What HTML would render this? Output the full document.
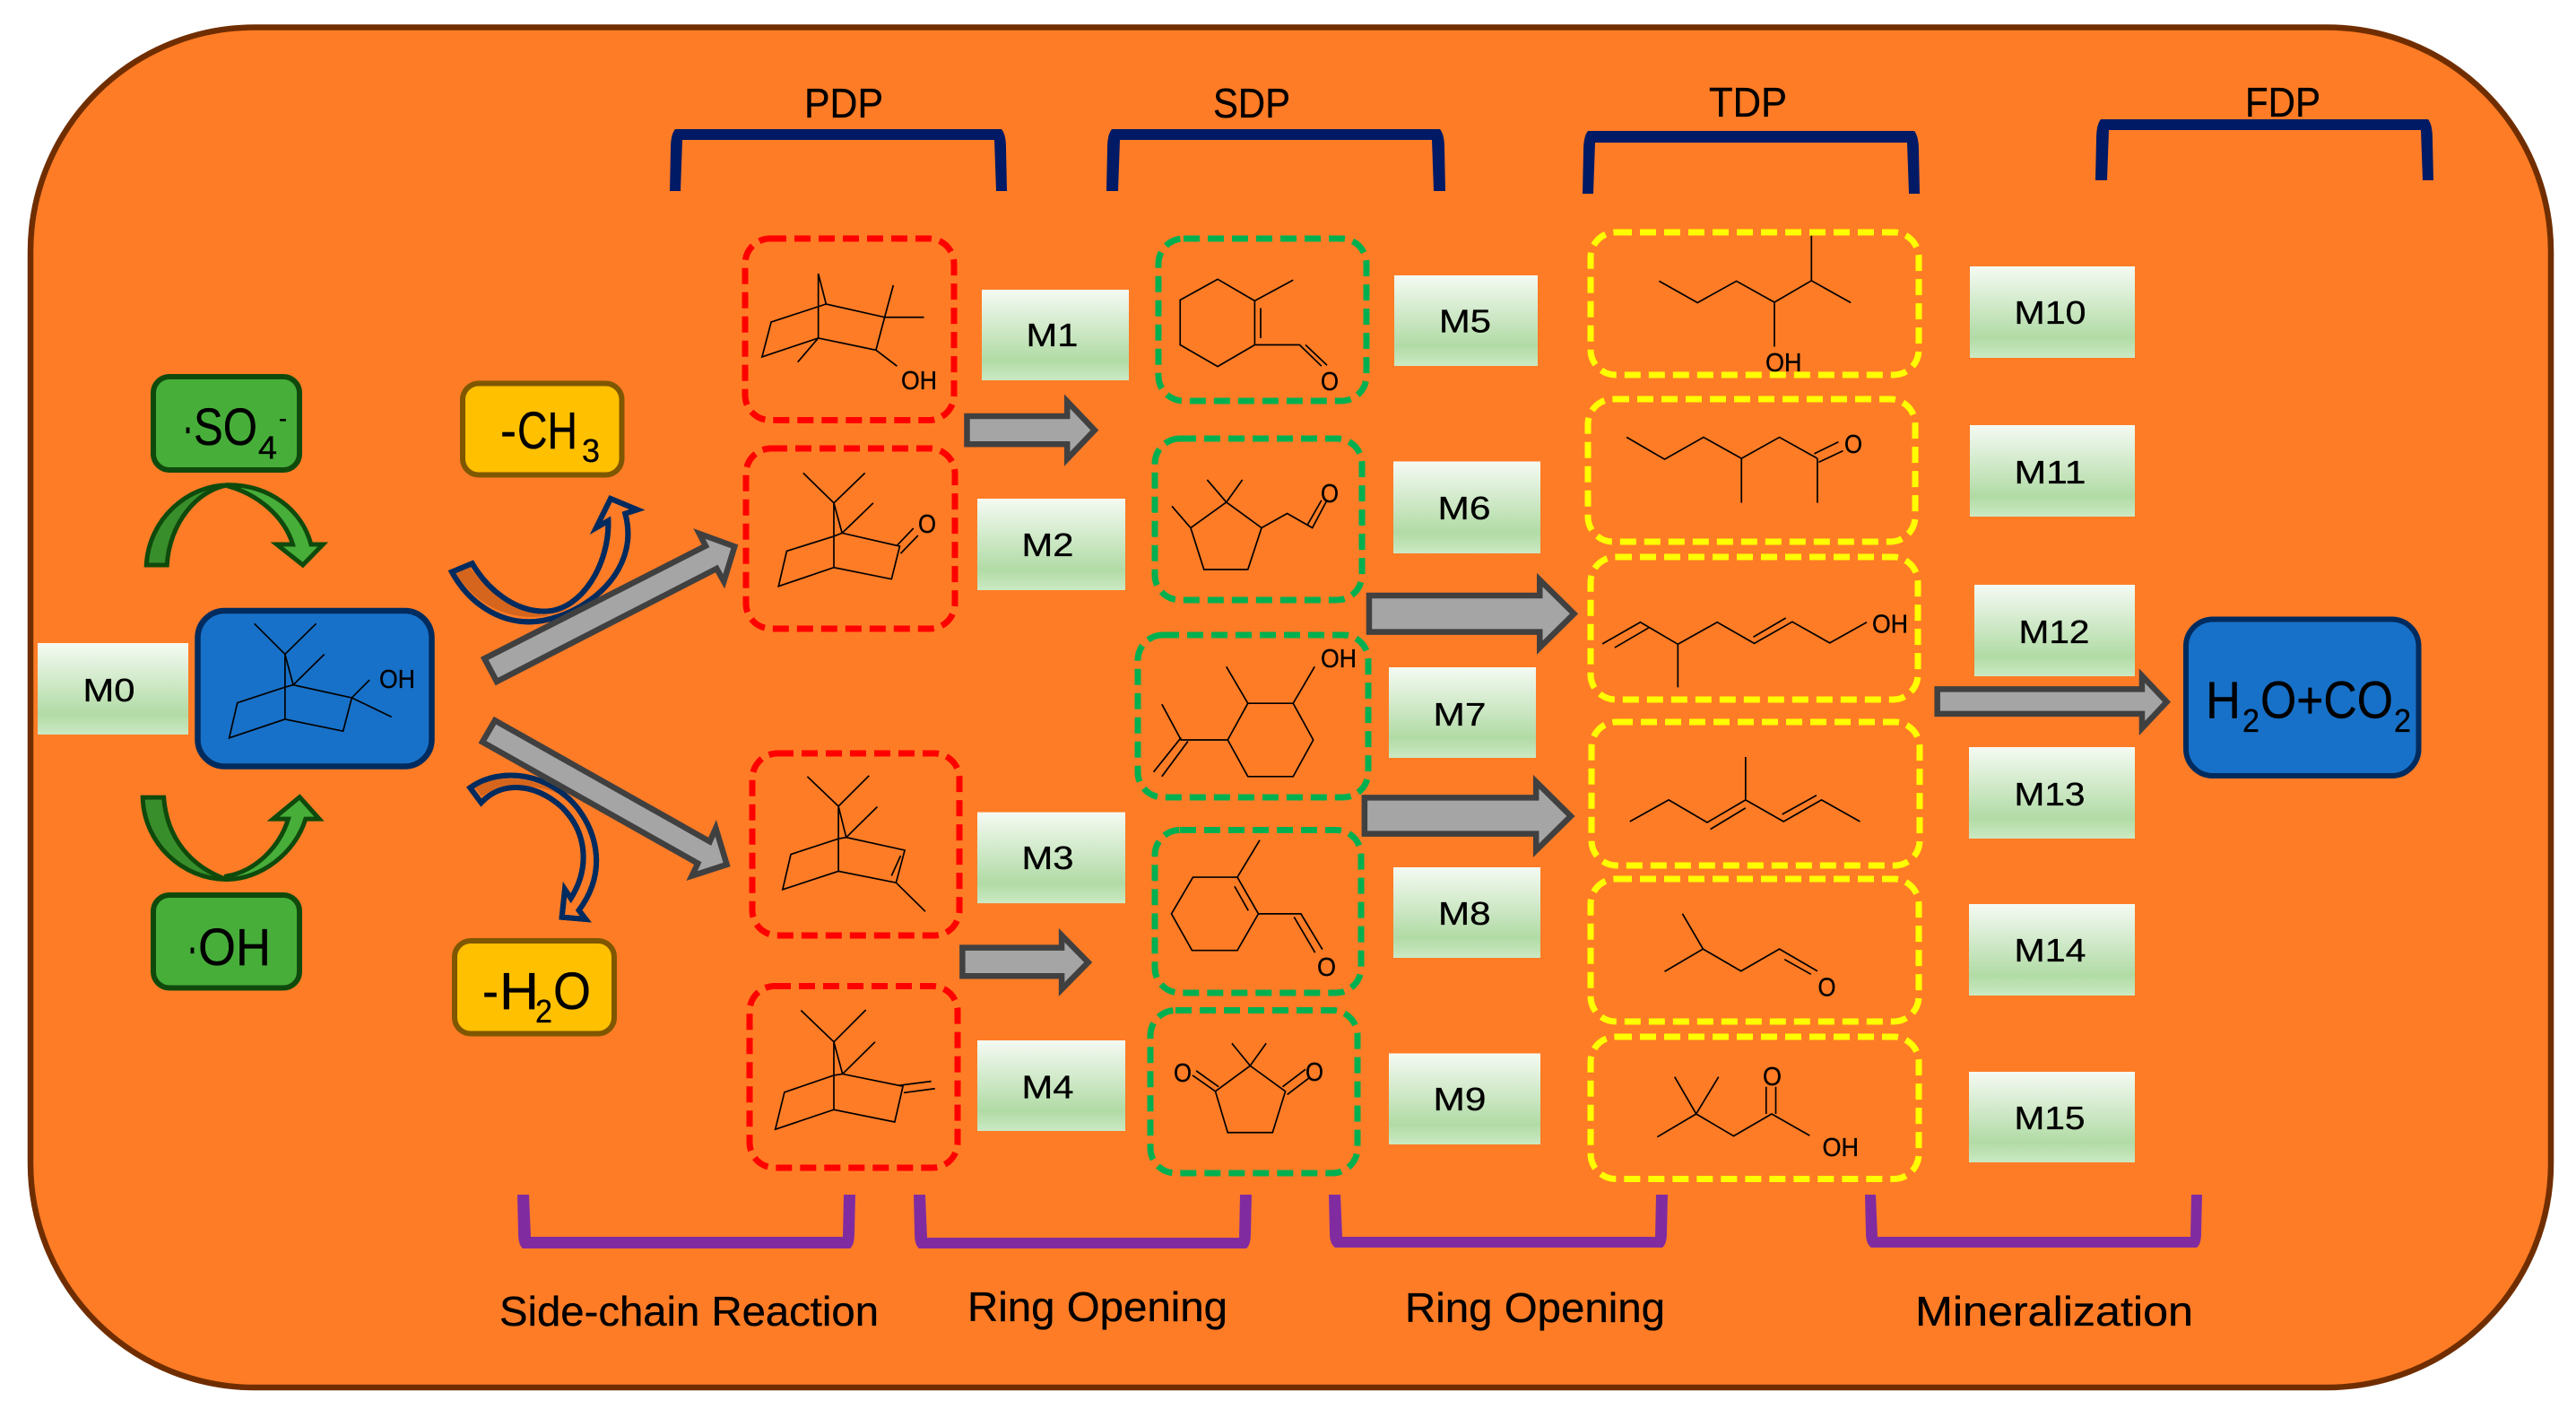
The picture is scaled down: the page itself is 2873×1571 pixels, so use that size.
<!DOCTYPE html>
<html><head><meta charset="utf-8"><style>
html,body{margin:0;padding:0;background:#fff;width:2873px;height:1571px;overflow:hidden}
svg{display:block}
text{font-family:"Liberation Sans",sans-serif;fill:#000;stroke:#000;stroke-width:.35}
.m{font-size:36.5px}.h{font-size:46.5px}.s{font-size:29px}.b{font-size:58px}.u{font-size:36px}
.mol *{fill:none;stroke:#000;stroke-width:1.7;vector-effect:non-scaling-stroke;stroke-linejoin:miter}
.da{fill:none;stroke-width:7;stroke-dasharray:18 9}
.gr{fill:#A5A5A5;stroke:#404040;stroke-width:6.5;vector-effect:non-scaling-stroke;stroke-linejoin:miter;stroke-miterlimit:8}
.cv{stroke:#002B5E;stroke-width:6;vector-effect:non-scaling-stroke;stroke-linejoin:miter}
.gc{stroke:#0F4A0C;stroke-width:5;vector-effect:non-scaling-stroke;stroke-linejoin:miter}
</style></head><body>
<svg width="2873" height="1571" viewBox="0 0 2873 1571" xmlns="http://www.w3.org/2000/svg">
<defs><linearGradient id="mg" x1="0" y1="0" x2="0" y2="1"><stop offset="0" stop-color="#F5FAF3"/><stop offset=".78" stop-color="#B1DBA5"/><stop offset="1" stop-color="#CBE9C3"/></linearGradient></defs>
<rect x="34" y="30.5" width="2811" height="1516.5" rx="250" ry="250" fill="#FF7C26" stroke="#702E00" stroke-width="6.5"/>

<!-- brackets -->
<g fill="#001A66">
<path d="M747 213 L748 165 Q748 150 753 144 L1117 144 Q1122 150 1122 165 L1123 213 L1111 213 L1109 156 L761 156 L759 213 Z"/>
<path d="M1234 213 L1235 165 Q1235 150 1240 144 L1606 144 Q1611 150 1611 165 L1612 213 L1599 213 L1597 156 L1249 156 L1247 213Z"/>
<path d="M1765 216 L1766 168 Q1766 152 1771 146 L2135 146 Q2140 152 2140 168 L2141 216 L2129 216 L2127 159 L1779 159 L1777 216Z"/>
<path d="M2337 201 L2338 155 Q2338 139 2343 133 L2708 133 Q2713 139 2713 155 L2714 201 L2702 201 L2700 145 L2352 145 L2350 201Z"/>
</g>
<g fill="#802CA0">
<path d="M577 1332 L578 1375 Q578 1388 583 1392 L948 1392 Q953 1388 953 1375 L954 1332 L941 1332 L940 1379 L592 1379 L590 1332 Z"/>
<path d="M1019 1332 L1020 1375 Q1020 1388 1025 1392 L1390 1392 Q1395 1388 1395 1375 L1396 1332 L1383 1332 L1382 1380 L1034 1380 L1032 1332Z"/>
<path d="M1482 1332 L1483 1375 Q1483 1387 1489 1391 L1854 1391 Q1859 1387 1859 1375 L1860 1332 L1847 1332 L1846 1379 L1497 1379 L1495 1332Z"/>
<path d="M2080 1332 L2081 1375 Q2081 1387 2087 1391 L2450 1391 Q2455 1387 2455 1375 L2456 1332 L2444 1332 L2443 1379 L2094 1379 L2092 1332Z"/>
</g>

<!-- headers -->
<text class="h" x="897" y="131" textLength="88" lengthAdjust="spacingAndGlyphs">PDP</text>
<text class="h" x="1353" y="131" textLength="86" lengthAdjust="spacingAndGlyphs">SDP</text>
<text class="h" x="1906" y="130" textLength="87" lengthAdjust="spacingAndGlyphs">TDP</text>
<text class="h" x="2504" y="130" textLength="84" lengthAdjust="spacingAndGlyphs">FDP</text>
<text class="h" x="557" y="1478" textLength="423" lengthAdjust="spacingAndGlyphs">Side-chain Reaction</text>
<text class="h" x="1079" y="1473" textLength="290" lengthAdjust="spacingAndGlyphs">Ring Opening</text>
<text class="h" x="1567" y="1474" textLength="290" lengthAdjust="spacingAndGlyphs">Ring Opening</text>
<text class="h" x="2136" y="1478" textLength="310" lengthAdjust="spacingAndGlyphs">Mineralization</text>

<!-- dashed boxes -->
<g class="da" stroke="#FF0000">
<rect x="831" y="266" width="233" height="202.5" rx="28"/>
<rect x="832" y="500" width="233" height="201" rx="28"/>
<rect x="839" y="840" width="231" height="203" rx="28"/>
<rect x="836" y="1099.5" width="232" height="202.5" rx="28"/>
</g>
<g class="da" stroke="#00B050">
<rect x="1292" y="266" width="232" height="181" rx="28"/>
<rect x="1288" y="489" width="231" height="180" rx="28"/>
<rect x="1269" y="708" width="257" height="181" rx="28"/>
<rect x="1288" y="925.5" width="230" height="181.5" rx="28"/>
<rect x="1283" y="1126.5" width="231" height="181.5" rx="28"/>
</g>
<g class="da" stroke="#FFFF00">
<rect x="1774" y="259" width="366" height="159" rx="28"/>
<rect x="1771" y="445" width="365" height="159" rx="28"/>
<rect x="1774" y="621" width="365" height="159" rx="28"/>
<rect x="1775" y="805" width="366" height="160" rx="28"/>
<rect x="1774" y="980" width="366" height="159" rx="28"/>
<rect x="1774" y="1156" width="366" height="158.5" rx="28"/>
</g>

<!-- M boxes -->
<g fill="url(#mg)">
<rect x="42" y="717" width="168" height="102"/>
<rect x="1095" y="323" width="164" height="101"/>
<rect x="1090" y="556" width="165" height="102"/>
<rect x="1090" y="905.6" width="165" height="101.5"/>
<rect x="1090" y="1160" width="165" height="101"/>
<rect x="1555" y="307" width="160" height="101"/>
<rect x="1554" y="514.5" width="164" height="102.5"/>
<rect x="1549" y="744" width="164" height="101"/>
<rect x="1554" y="967" width="164" height="101"/>
<rect x="1549" y="1174.5" width="169" height="101.5"/>
<rect x="2197" y="297" width="184" height="102"/>
<rect x="2197" y="474" width="184" height="102"/>
<rect x="2202" y="652" width="179" height="102"/>
<rect x="2196" y="833" width="185" height="102"/>
<rect x="2196" y="1008" width="185" height="102"/>
<rect x="2196" y="1195" width="185" height="101"/>
</g>
<g class="m">
<text x="92.5" y="782" textLength="58" lengthAdjust="spacingAndGlyphs">M0</text>
<text x="1144.5" y="386" textLength="58" lengthAdjust="spacingAndGlyphs">M1</text>
<text x="1139.5" y="620" textLength="58" lengthAdjust="spacingAndGlyphs">M2</text>
<text x="1139.5" y="969" textLength="58" lengthAdjust="spacingAndGlyphs">M3</text>
<text x="1139.5" y="1224.5" textLength="58" lengthAdjust="spacingAndGlyphs">M4</text>
<text x="1605" y="370.5" textLength="58" lengthAdjust="spacingAndGlyphs">M5</text>
<text x="1603.5" y="579" textLength="59" lengthAdjust="spacingAndGlyphs">M6</text>
<text x="1598.5" y="809" textLength="59" lengthAdjust="spacingAndGlyphs">M7</text>
<text x="1604" y="1031" textLength="58.5" lengthAdjust="spacingAndGlyphs">M8</text>
<text x="1598.5" y="1238" textLength="59" lengthAdjust="spacingAndGlyphs">M9</text>
<text x="2246.5" y="361" textLength="80" lengthAdjust="spacingAndGlyphs">M10</text>
<text x="2246.5" y="539" textLength="80" lengthAdjust="spacingAndGlyphs">M11</text>
<text x="2251.5" y="717" textLength="79" lengthAdjust="spacingAndGlyphs">M12</text>
<text x="2246.5" y="898" textLength="79" lengthAdjust="spacingAndGlyphs">M13</text>
<text x="2246.5" y="1072" textLength="80" lengthAdjust="spacingAndGlyphs">M14</text>
<text x="2246.5" y="1259" textLength="79" lengthAdjust="spacingAndGlyphs">M15</text>
</g>

<!-- reagent boxes -->
<rect x="171" y="420" width="163" height="104" rx="18" fill="#47AE3A" stroke="#0F4A0C" stroke-width="6"/>
<rect x="171" y="998" width="163" height="103.5" rx="18" fill="#47AE3A" stroke="#0F4A0C" stroke-width="6"/>
<rect x="516" y="427.5" width="177.5" height="102" rx="18" fill="#FFC000" stroke="#7F5700" stroke-width="6"/>
<rect x="507" y="1049" width="178" height="103.5" rx="18" fill="#FFC000" stroke="#7F5700" stroke-width="6"/>
<rect x="220.5" y="681" width="261" height="173.5" rx="30" fill="#1871C8" stroke="#002B5E" stroke-width="6.5"/>
<rect x="2438" y="690.5" width="259.5" height="174.5" rx="30" fill="#1871C8" stroke="#002B5E" stroke-width="6"/>

<text class="b" x="203" y="496" textLength="13" lengthAdjust="spacingAndGlyphs">·</text>
<text class="b" x="216" y="496" textLength="71" lengthAdjust="spacingAndGlyphs">SO</text>
<text class="u" x="288" y="511.5" textLength="21" lengthAdjust="spacingAndGlyphs">4</text>
<text x="311" y="476" font-size="28" textLength="9" lengthAdjust="spacingAndGlyphs">-</text>
<text class="b" x="208" y="1076" textLength="13" lengthAdjust="spacingAndGlyphs">·</text>
<text class="b" x="221" y="1076" textLength="81" lengthAdjust="spacingAndGlyphs">OH</text>
<text class="b" x="558" y="500" textLength="18" lengthAdjust="spacingAndGlyphs">-</text>
<text class="b" x="577" y="500" textLength="67" lengthAdjust="spacingAndGlyphs">CH</text>
<text class="u" x="649" y="515" textLength="20" lengthAdjust="spacingAndGlyphs">3</text>
<text class="b" x="538" y="1125" textLength="18" lengthAdjust="spacingAndGlyphs">-</text>
<text class="b" x="557" y="1125" textLength="44" lengthAdjust="spacingAndGlyphs">H</text>
<text class="u" x="597" y="1140" textLength="19" lengthAdjust="spacingAndGlyphs">2</text>
<text class="b" x="617" y="1125" textLength="42" lengthAdjust="spacingAndGlyphs">O</text>
<text class="b" x="2460" y="800.5" textLength="39" lengthAdjust="spacingAndGlyphs">H</text>
<text class="u" x="2501" y="816" textLength="19" lengthAdjust="spacingAndGlyphs">2</text>
<text class="b" x="2521" y="800.5" textLength="148" lengthAdjust="spacingAndGlyphs">O+CO</text>
<text class="u" x="2670" y="816" textLength="19" lengthAdjust="spacingAndGlyphs">2</text>

<!-- green curved arrows -->
<g transform="translate(0,380) scale(.5102)">
<path class="gc" fill="#388E2B" d="M320 490 C325 390 410 315 500 315 C430 325 370 400 365 490 Z"/>
<path class="gc" fill="#47AE3A" d="M500 315 C590 315 660 370 680 445 L706 445 L662 490 L605 445 L640 445 C620 380 560 335 500 318 Z"/>
<path class="gc" fill="#388E2B" d="M312 998 C315 1100 400 1177 495 1177 C420 1150 365 1090 358 998 Z"/>
<path class="gc" fill="#47AE3A" d="M495 1177 C570 1177 645 1120 668 1045 L698 1045 L655 997 L597 1045 L630 1045 C610 1110 555 1160 495 1170 Z"/>
</g>

<!-- navy curved arrows -->
<g transform="translate(480,560) scale(.3333)">
<path class="cv" fill="#FF7C26" d="M72 233 C130 340 230 400 330 400 C450 400 640 300 660 130 C664 90 658 60 652 38 L692 25 L603 -12 L555 85 L595 62 C600 200 510 365 380 365 C280 365 190 290 140 205 Z"/>
<path fill="#D5651C" d="M85 238 L132 217 C190 300 280 372 400 378 C300 398 170 370 85 238 Z"/>
<path class="cv" fill="none" d="M72 233 C130 340 230 400 330 400 C450 400 640 300 660 130 C664 90 658 60 652 38 L692 25 L603 -12 L555 85 L595 62 C600 200 510 365 380 365 C280 365 190 290 140 205 Z"/>
<path class="cv" fill="#FF7C26" d="M133 955 C240 880 400 910 490 1020 C560 1110 590 1240 497 1365 L520 1395 L440 1388 L450 1295 L470 1325 C530 1230 530 1110 440 1020 C350 940 240 930 170 1005 Z"/>
<path fill="#D5651C" d="M150 955 L172 985 C240 935 340 940 430 975 C350 920 220 905 150 955 Z"/>
<path class="cv" fill="none" d="M133 955 C240 880 400 910 490 1020 C560 1110 590 1240 497 1365 L520 1395 L440 1388 L450 1295 L470 1325 C530 1230 530 1110 440 1020 C350 940 240 930 170 1005 Z"/>
<polygon class="gr" points="181,523 222,600 958,222 982,265 1018,148 900,105 921,146"/>
<polygon class="gr" points="216,730 174,802 895,1208 875,1250 992,1212 955,1090 935,1135"/>
</g>

<!-- gray arrows -->
<g transform="translate(780,60) scale(.5102,.4464)"><polygon class="gr" points="585,905 804,905 804,868 864,940 804,1012 804,975 585,975"/></g>
<g transform="translate(780,700) scale(.5102)"><polygon class="gr" points="575,699 792,699 792,672 850,731 792,790 792,761 575,761"/></g>
<g transform="translate(1480,60) scale(.5102,.4719)"><polygon class="gr" points="92,1280 465,1280 465,1243 540,1323 465,1403 465,1366 92,1366"/></g>
<g transform="translate(1480,780) scale(.5102,.5038)"><polygon class="gr" points="82,217 457,217 457,182 533,258 457,334 457,297 82,297"/></g>
<g transform="translate(2100,60) scale(.4931,.574)"><polygon class="gr" points="123,1234 586,1234 586,1208 642,1259 586,1310 586,1282 123,1282"/></g>

<!-- molecules -->
<g class="mol" transform="translate(0,380) scale(.5102)">
<path d="M556 618L623 685L691 618M623 685V827M623 685L641 752M709 685L641 752M519 791L623 757L641 752L769 780L750 853L623 827L501 868L519 791ZM769 780L808 741M769 780L856 822"/>
</g>
<g class="mol" transform="translate(780,60) scale(.5102,.4464)">
<path d="M260 549V710M260 549L277 625M277 625L157 670L137 757L260 710L386 740L405 658L277 625ZM405 658L424 578M405 658H491M260 710L215 770M386 740L432 780"/>
<path d="M227 1047L294 1122L362 1047M294 1122V1283M294 1122L312 1197M380 1122L312 1197M191 1242L294 1205L312 1197L438 1230L420 1312L294 1283L173 1330L191 1242ZM432 1228L468 1185M440 1248L478 1203"/>
<path d="M1133 563L1214 617V727L1133 781L1051 727V615ZM1227 635V710M1214 617L1298 565M1214 727H1312L1360 780M1325 727L1372 778"/>
<path d="M1110 1064L1152 1120L1187 1064M1152 1120L1229 1184L1199 1288H1103L1074 1184ZM1074 1184L1033 1130M1229 1184L1285 1148L1340 1184L1372 1115M1330 1175L1360 1115"/>
</g>
<g class="mol" transform="translate(780,700) scale(.5102)">
<path d="M1152 85L1199 165H1298L1345 85M1298 165L1342 245L1298 325H1199L1155 245L1199 165M1155 245H1053L1011 167M1053 240L993 315M1068 248L1011 325"/>
<path d="M236 325L304 390L371 323M304 390V532M304 390L321 458M389 391L321 458M200 495L304 461L321 458L449 486L430 557L304 532L182 572L200 495ZM440 498L420 542M430 557L494 620"/>
<path d="M222 836L294 905L364 835M294 905V1053M294 905L313 975M384 905L313 975M186 1015L294 978L313 975L445 1002L427 1080L294 1053L166 1096L186 1015ZM437 1000L507 991M447 1016L515 1007"/>
<path d="M1225 464L1176 545H1079L1032 625L1077 705H1176L1222 625L1176 545M1170 565L1200 618M1222 625H1315L1362 703M1300 632L1346 710"/>
<path d="M1164 908L1204 957L1239 908M1204 957L1281 1013L1253 1103H1155L1128 1013ZM1128 1013L1078 978M1135 1003L1086 968M1275 1003L1325 965M1285 1020L1335 982"/>
</g>
<g class="mol" transform="translate(1480,60) scale(.5102,.4719)">
<path d="M726 537L810 588L895 537L978 587L1059 536L1145 588M1059 536V430M978 587V692"/>
<path d="M655 906L738 958L823 906L906 956L989 906L1072 956M906 956V1061M1072 956V1061M1065 945L1118 917M1075 965L1128 938"/>
<path d="M602 1394L685 1343L767 1395L853 1343L934 1393L1017 1342L1099 1392L1180 1343M767 1395V1497M629 1403L705 1355M932 1378L1003 1333"/>
</g>
<g class="mol" transform="translate(1480,780) scale(.5102,.5038)">
<path d="M662 270L747 222L831 272L915 222L998 270L1081 222L1165 270M915 222V127M838 287L915 240M995 254L1070 212"/>
<path d="M777 474L822 552L738 602M822 552L905 601L989 552L1072 601M1000 575L1058 608"/>
<path d="M760 835L807 917L856 835M807 917L722 968M807 917L889 966L972 917L1055 965M960 857V917M981 857V917"/>
</g>

<!-- atom labels -->
<g class="s">
<text x="423" y="767" textLength="40" lengthAdjust="spacingAndGlyphs">OH</text>
<text x="1005" y="434" textLength="40" lengthAdjust="spacingAndGlyphs">OH</text>
<text x="1024" y="594" textLength="20" lengthAdjust="spacingAndGlyphs">O</text>
<text x="1473" y="435" textLength="20" lengthAdjust="spacingAndGlyphs">O</text>
<text x="1473" y="560" textLength="20" lengthAdjust="spacingAndGlyphs">O</text>
<text x="1473" y="744" textLength="40" lengthAdjust="spacingAndGlyphs">OH</text>
<text x="1469" y="1088" textLength="21" lengthAdjust="spacingAndGlyphs">O</text>
<text x="1309" y="1206" textLength="20" lengthAdjust="spacingAndGlyphs">O</text>
<text x="1456" y="1205" textLength="20" lengthAdjust="spacingAndGlyphs">O</text>
<text x="1969" y="414" textLength="40.5" lengthAdjust="spacingAndGlyphs">OH</text>
<text x="2057" y="505" textLength="20" lengthAdjust="spacingAndGlyphs">O</text>
<text x="2088" y="705.5" textLength="40" lengthAdjust="spacingAndGlyphs">OH</text>
<text x="2027.5" y="1110.5" textLength="20" lengthAdjust="spacingAndGlyphs">O</text>
<text x="1966" y="1210" textLength="21" lengthAdjust="spacingAndGlyphs">O</text>
<text x="2032.5" y="1289" textLength="40.5" lengthAdjust="spacingAndGlyphs">OH</text>
</g>
</svg>
</body></html>
